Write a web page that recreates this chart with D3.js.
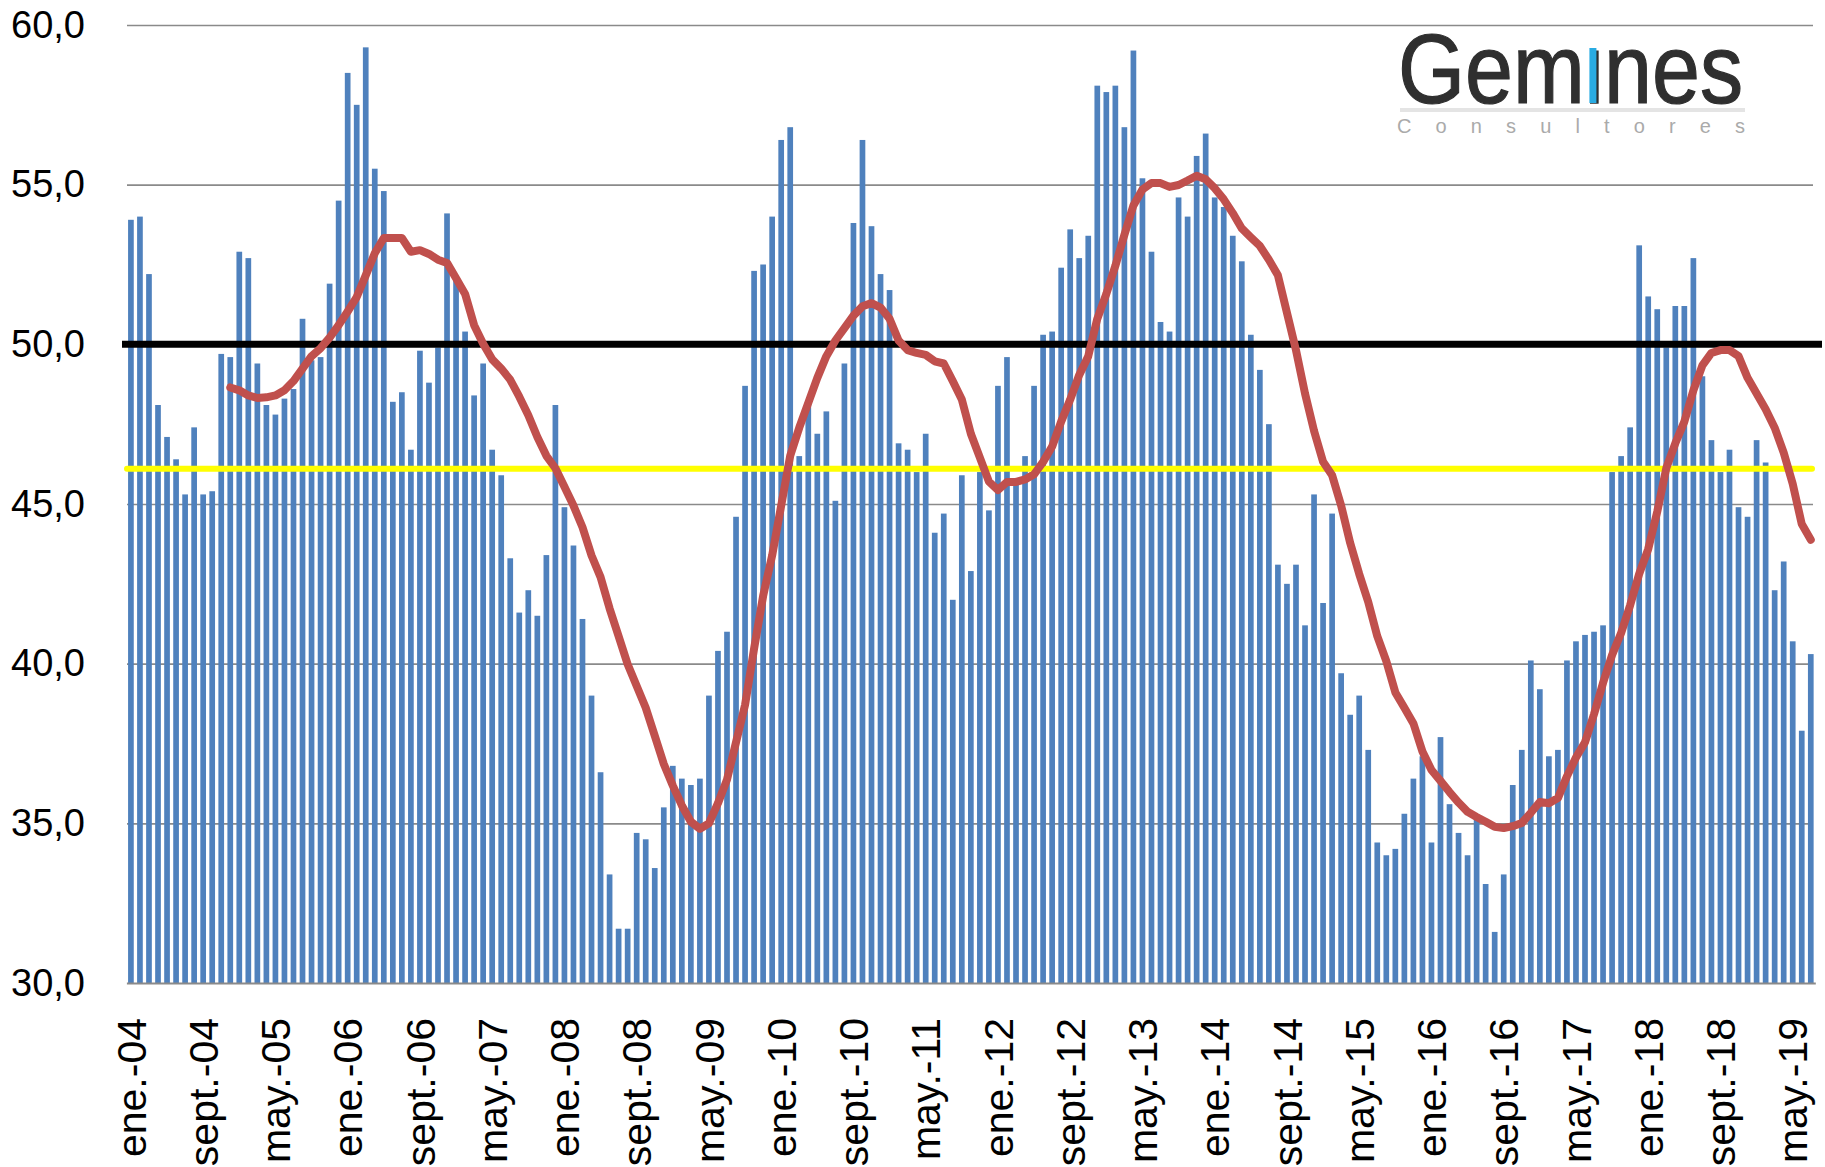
<!DOCTYPE html>
<html lang="es">
  <head>
    <meta charset="UTF-8" />
    <title>Indicador mensual y media móvil</title>
    <style>
      body {
        margin: 0;
        background: #fff;
        font-family: "Liberation Sans", Arial, sans-serif;
      }

      .bars rect {
        fill: #4f81bd;
      }

      .grid line {
        stroke: #8a8a8a;
        stroke-width: 1.6;
      }

      .grid .domain,
      .yaxis .domain,
      .yaxis line,
      .xaxis line {
        display: none;
      }

      .xaxis .domain {
        stroke: #8a8a8a;
        stroke-width: 2;
      }

      .yaxis text {
        font-size: 38px;
        fill: #000;
      }

      .xaxis text {
        font-size: 41px;
        fill: #000;
        text-anchor: end;
      }
    </style>
  </head>
  <body>
    <svg width="1825" height="1167"></svg>
  </body>
  <script src="https://cdn.jsdelivr.net/npm/d3@7"></script>
  <script>
    // monthly index values, ene.-04 ... jul.-19
    const values = [
      53.9, 54.0, 52.2, 48.1, 47.1, 46.4, 45.3, 47.4, 45.3, 45.4, 49.7, 49.6,
      52.9, 52.7, 49.4, 48.1, 47.8, 48.3, 48.6, 50.8, 49.5, 49.6, 51.9, 54.5,
      58.5, 57.5, 59.3, 55.5, 54.8, 48.2, 48.5, 46.7, 49.8, 48.8, 49.9, 54.1,
      52.0, 50.4, 48.4, 49.4, 46.7, 45.9, 43.3, 41.6, 42.3, 41.5, 43.4, 48.1,
      44.9, 43.7, 41.4, 39.0, 36.6, 33.4, 31.7, 31.7, 34.7, 34.5, 33.6, 35.5,
      36.8, 36.4, 36.2, 36.4, 39.0, 40.4, 41.0, 44.6, 48.7, 52.3, 52.5, 54.0,
      56.4, 56.8, 46.5, 48.2, 47.2, 47.9, 45.1, 49.4, 53.8, 56.4, 53.7, 52.2,
      51.7, 46.9, 46.7, 46.0, 47.2, 44.1, 44.7, 42.0, 45.9, 42.9, 46.0, 44.8,
      48.7, 49.6, 45.7, 46.5, 48.7, 50.3, 50.4, 52.4, 53.6, 52.7, 53.4, 58.1,
      57.9, 58.1, 56.8, 59.2, 55.2, 52.9, 50.7, 50.4, 54.6, 54.0, 55.9, 56.6,
      54.6, 54.3, 53.4, 52.6, 50.3, 49.2, 47.5, 43.1, 42.5, 43.1, 41.2, 45.3,
      41.9, 44.7, 39.7, 38.4, 39.0, 37.3, 34.4, 34.0, 34.2, 35.3, 36.4, 37.1,
      34.4, 37.7, 35.6, 34.7, 34.0, 35.2, 33.1, 31.6, 33.4, 36.2, 37.3, 40.1,
      39.2, 37.1, 37.3, 40.1, 40.7, 40.9, 41.0, 41.2, 46.0, 46.5, 47.4, 53.1,
      51.5, 51.1, 49.9, 51.2, 51.2, 52.7, 49.0, 47.0, 46.0, 46.7, 44.9, 44.6,
      47.0, 46.3, 42.3, 43.2, 40.7, 37.9, 40.3,
    ];

    // red trend line, starts at dic.-04
    const trendStart = 11;
    const trend = [
      48.65, 48.56, 48.4, 48.32, 48.34, 48.4, 48.56, 48.85, 49.24, 49.63,
      49.88, 50.21, 50.6, 51.03, 51.48, 52.16, 52.85, 53.33, 53.33, 53.33,
      52.9, 52.95, 52.83, 52.65, 52.55, 52.07, 51.58, 50.6, 50.02, 49.53,
      49.24, 48.89, 48.36, 47.78, 47.1, 46.51, 46.12, 45.54, 44.95, 44.27,
      43.39, 42.71, 41.73, 40.86, 39.98, 39.3, 38.62, 37.74, 36.86, 36.18,
      35.56, 35.05, 34.83, 35.0, 35.63, 36.37, 37.54, 38.71, 40.47, 42.12,
      43.39, 44.95, 46.51, 47.39, 48.17, 48.95, 49.63, 50.12, 50.51, 50.9,
      51.19, 51.29, 51.15, 50.8, 50.12, 49.82, 49.73, 49.67, 49.47, 49.4,
      48.85, 48.27, 47.2, 46.45, 45.7, 45.44, 45.69, 45.69, 45.77, 45.93,
      46.32, 46.8, 47.58, 48.27, 49.04, 49.63, 50.8, 51.58, 52.46, 53.43,
      54.35, 54.85, 55.05, 55.05, 54.93, 54.99, 55.13, 55.28, 55.17, 54.89,
      54.54, 54.11, 53.63, 53.35, 53.08, 52.65, 52.16, 50.99, 49.82, 48.46,
      47.29, 46.32, 45.9, 44.95, 43.78, 42.81, 41.93, 40.86, 40.08, 39.1,
      38.62, 38.13, 37.25, 36.67, 36.33, 35.98, 35.65, 35.36, 35.2, 35.05,
      34.89, 34.85, 34.91, 35.01, 35.33, 35.67, 35.63, 35.79, 36.47, 37.06,
      37.54, 38.42, 39.4, 40.27, 40.96, 41.83, 42.81, 43.59, 44.76, 46.12,
      46.9, 47.58, 48.56, 49.34, 49.73, 49.82, 49.82, 49.63, 48.95, 48.46,
      47.97, 47.39, 46.61, 45.63, 44.37, 43.88,
    ];

    const monthNames = ["ene.", "feb.", "mar.", "abr.", "may.", "jun.",
      "jul.", "ago.", "sept.", "oct.", "nov.", "dic."];
    const months = values.map(
      (_, i) => monthNames[i % 12] + "-" + String(4 + Math.floor(i / 12)).padStart(2, "0")
    );

    const tickLabels = [
      "ene.-04", "sept.-04", "may.-05", "ene.-06", "sept.-06", "may.-07",
      "ene.-08", "sept.-08", "may.-09", "ene.-10", "sept.-10", "may.-11",
      "ene.-12", "sept.-12", "may.-13", "ene.-14", "sept.-14", "may.-15",
      "ene.-16", "sept.-16", "may.-17", "ene.-18", "sept.-18", "may.-19",
    ];
    const yTicks = [30, 35, 40, 45, 50, 55, 60];
    const blackLevel = 50;
    const yellowLevel = 46.1;

    const svg = d3.select("svg");

    const x = d3.scaleBand()
      .domain(months)
      .range([126.4, 1815.3])
      .paddingInner(0.37)
      .paddingOuter(0.185);

    const y = d3.scaleLinear().domain([30, 60]).range([983, 25]);

    const left = 127, right = 1813;

    // gridlines
    svg.append("g")
      .attr("class", "grid")
      .attr("transform", `translate(${left},0)`)
      .call(d3.axisLeft(y).tickValues(yTicks.slice(1)).tickSize(-(right - left)).tickFormat(""));

    // bars
    svg.append("g")
      .attr("class", "bars")
      .selectAll("rect")
      .data(values)
      .join("rect")
      .attr("x", (_, i) => x(months[i]))
      .attr("width", x.bandwidth())
      .attr("y", (d) => y(d))
      .attr("height", (d) => y(30) - y(d));

    // x axis
    svg.append("g")
      .attr("class", "xaxis")
      .attr("transform", `translate(0,${y(30)})`)
      .call(d3.axisBottom(x).tickValues(tickLabels).tickSize(0).tickSizeOuter(0))
      .selectAll("text")
      .attr("transform", "rotate(-90)")
      .attr("x", -35)
      .attr("y", 0)
      .attr("dy", "0.36em");

    // y axis labels
    svg.append("g")
      .attr("class", "yaxis")
      .attr("transform", `translate(${left},0)`)
      .call(d3.axisLeft(y).tickValues(yTicks).tickSize(0).tickPadding(42)
        .tickFormat((d) => d3.format(".1f")(d).replace(".", ",")));

    // reference lines
    svg.append("line")
      .attr("x1", left).attr("x2", 1812)
      .attr("y1", y(yellowLevel)).attr("y2", y(yellowLevel))
      .attr("stroke", "#ffff00").attr("stroke-width", 6)
      .attr("stroke-linecap", "round");

    svg.append("line")
      .attr("x1", 122).attr("x2", 1822)
      .attr("y1", y(blackLevel)).attr("y2", y(blackLevel))
      .attr("stroke", "#000").attr("stroke-width", 7);

    // trend line
    const line = d3.line()
      .x((_, k) => x(months[trendStart + k]) + x.bandwidth() / 2)
      .y((d) => y(d));

    svg.append("path")
      .datum(trend)
      .attr("d", line)
      .attr("fill", "none")
      .attr("stroke", "#c0504d")
      .attr("stroke-width", 8)
      .attr("stroke-linejoin", "round")
      .attr("stroke-linecap", "round");

    // logo
    const logo = svg.append("g").attr("class", "logo");
    const brand = logo.append("text")
      .attr("x", 1398)
      .attr("y", 103)
      .attr("font-size", 99)
      .attr("fill", "#2f2f2f")
      .attr("stroke", "#2f2f2f")
      .attr("stroke-width", 1.2)
      .attr("textLength", 345)
      .attr("lengthAdjust", "spacingAndGlyphs")
      .text("Gemines");

    // the "i" of the logo is a plain blue bar with no dot
    const iBox = brand.node().getExtentOfChar(3);
    const iMid = iBox.x + iBox.width / 2;
    logo.append("rect")
      .attr("x", iMid - 10).attr("y", 28)
      .attr("width", 20).attr("height", 20)
      .attr("fill", "#fff");
    logo.append("rect")
      .attr("x", iMid - 5).attr("y", 48)
      .attr("width", 7).attr("height", 55)
      .attr("fill", "#29abe2");

    logo.append("rect")
      .attr("x", 1400).attr("y", 108)
      .attr("width", 345).attr("height", 4)
      .attr("fill", "#e4e4e4");

    logo.append("text")
      .attr("x", 1397)
      .attr("y", 133)
      .attr("font-size", 20)
      .attr("fill", "#aaa")
      .attr("textLength", 348)
      .attr("lengthAdjust", "spacing")
      .text("Consultores");
  </script>
</html>
